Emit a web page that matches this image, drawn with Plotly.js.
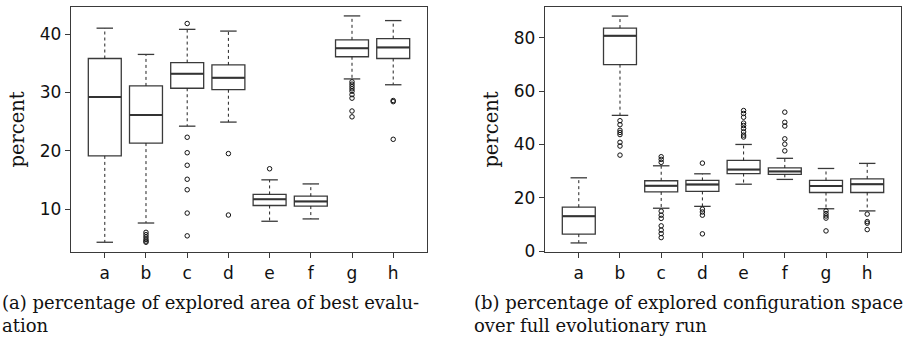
<!DOCTYPE html>
<html>
<head>
<meta charset="utf-8">
<script src="https://cdn.plot.ly/plotly-3.0.1.min.js"></script>
<style>html,body{margin:0;padding:0;background:#fff}#chart{width:912px;height:337px}</style>
</head>
<body>
<div id="chart"></div>
<script>
// categories
const categories = ['a','b','c','d','e','f','g','h'];

// (a) percentage of explored area of best evaluation
const aLower  = [4.3, 7.6, 24.2, 24.9, 7.9, 8.3, 32.3, 31.3];
const aQ1     = [19.1, 21.3, 30.7, 30.45, 10.6, 10.5, 36.1, 35.8];
const aMedian = [29.2, 26.1, 33.2, 32.5, 11.66, 11.3, 37.55, 37.7];
const aQ3     = [35.8, 31.1, 35.1, 34.7, 12.5, 12.2, 39.0, 39.2];
const aUpper  = [41.0, 36.5, 40.8, 40.5, 15.0, 14.3, 43.1, 42.3];
const aOutlierCat = ['b','b','b','b','b','b','c','c','c','c','c','c','c','c','d','d','e',
  'g','g','g','g','g','g','g','g','g','h','h','h'];
const aOutlierVal = [6.0,5.6,5.2,4.8,4.5,4.3, 41.8,22.3,19.65,17.5,15.1,13.3,9.3,5.4, 19.5,8.97, 16.9,
  31.8,31.4,31.0,30.6,30.2,29.6,29.0,26.8,25.8,21.95, 28.6,28.4,17.9];

// (b) percentage of explored configuration space over full evolutionary run
const bLower  = [3.1, 50.9, 16.1, 16.8, 25.1, 26.9, 15.9, 15.1];
const bQ1     = [6.4, 69.9, 22.2, 22.4, 29.1, 28.8, 22.0, 22.0];
const bMedian = [13.1, 80.7, 24.5, 25.0, 30.6, 29.9, 24.4, 25.1];
const bQ3     = [16.5, 83.6, 26.4, 26.5, 34.0, 31.2, 26.5, 27.1];
const bUpper  = [27.5, 88.1, 32.0, 29.0, 40.0, 34.8, 31.0, 32.9];
const bOutlierCat = ['b','b','b','b','b','b','b','b',
  'c','c','c','c','c','c','c','c','c','c',
  'd','d','d','d','d',
  'e','e','e','e','e','e','e','e','e',
  'f','f','f','f','f','f',
  'g','g','g','g','g',
  'h','h','h','h'];
const bOutlierVal = [48.9,47.4,45.3,44.5,43.7,40.8,39.4,36.0,
  35.4,34.4,33.3,15.0,13.5,12.3,9.5,7.9,6.6,5.1,
  33.0,15.75,14.7,13.5,6.5,
  52.7,51.6,50.2,48.0,47.1,46.0,44.7,43.5,42.8,
  52.1,48.3,46.9,42.1,40.1,37.6,
  15.1,14.1,13.2,12.4,7.6,
  13.9,11.1,10.5,8.1];

const yTitle = 'percent';
const captionA = '(a) percentage of explored area of best evalu-<br>ation';
const captionB = '(b) percentage of explored configuration space<br>over full evolutionary run';

const pos = categories.map((c,i)=>i+1);
const posOf = c => categories.indexOf(c)+1;
const BOXW = 0.8, CAPW = 0.4;
const LINEC = '#3a3a3a';

function panel(lower,q1,med,q3,upper,oCat,oVal,xa,ya){
  const traces = [];
  // whiskers (dotted)
  const wx=[], wy=[];
  pos.forEach((p,i)=>{ wx.push(p,p,null,p,p,null); wy.push(q3[i],upper[i],null,q1[i],lower[i],null); });
  traces.push({type:'scatter',mode:'lines',x:wx,y:wy,xaxis:xa,yaxis:ya,
    line:{color:'#222',width:1,dash:'dot'},hoverinfo:'skip',showlegend:false});
  // caps
  const cx=[], cy=[];
  pos.forEach((p,i)=>{ cx.push(p-CAPW/2,p+CAPW/2,null,p-CAPW/2,p+CAPW/2,null); cy.push(upper[i],upper[i],null,lower[i],lower[i],null); });
  traces.push({type:'scatter',mode:'lines',x:cx,y:cy,xaxis:xa,yaxis:ya,
    line:{color:LINEC,width:1.3},hoverinfo:'skip',showlegend:false});
  // boxes
  traces.push({type:'box',x:pos,q1:q1,median:med,q3:q3,lowerfence:q1,upperfence:q3,
    xaxis:xa,yaxis:ya,width:BOXW,whiskerwidth:0,fillcolor:'#ffffff',
    line:{color:LINEC,width:1.3},boxpoints:false,showlegend:false});
  // medians (thicker)
  const mx=[], my=[];
  pos.forEach((p,i)=>{ mx.push(p-BOXW/2,p+BOXW/2,null); my.push(med[i],med[i],null); });
  traces.push({type:'scatter',mode:'lines',x:mx,y:my,xaxis:xa,yaxis:ya,
    line:{color:'#333',width:2},hoverinfo:'skip',showlegend:false});
  // outliers
  traces.push({type:'scatter',mode:'markers',x:oCat.map(posOf),y:oVal,xaxis:xa,yaxis:ya,
    marker:{symbol:'circle-open',size:4.5,color:'#111',line:{width:1,color:'#111'}},showlegend:false});
  return traces;
}

const data = [
  ...panel(aLower,aQ1,aMedian,aQ3,aUpper,aOutlierCat,aOutlierVal,'x','y'),
  ...panel(bLower,bQ1,bMedian,bQ3,bUpper,bOutlierCat,bOutlierVal,'x2','y2')
];

const tickFont = {family:'DejaVu Sans, sans-serif',size:17,color:'#111'};
const titleFont = {family:'DejaVu Serif, serif',size:19.5,color:'#111'};
function xaxis(domain,anchor){
  return {domain:domain,anchor:anchor,range:[0.18,8.82],tickvals:pos,ticktext:categories,
    showgrid:false,zeroline:false,showline:true,mirror:true,linecolor:LINEC,linewidth:1.3,
    ticks:'outside',ticklen:5,tickcolor:LINEC,tickfont:tickFont,fixedrange:true};
}
function yaxis(domain,anchor,range,tv){
  return {domain:domain,anchor:anchor,range:range,tickvals:tv,
    showgrid:false,zeroline:false,showline:true,mirror:true,linecolor:LINEC,linewidth:1.3,
    ticks:'outside',ticklen:5,tickcolor:LINEC,tickfont:tickFont,
    title:{text:yTitle,font:titleFont,standoff:9},fixedrange:true};
}

const capFont = {family:'DejaVu Serif, serif',size:18,color:'#111'};
const layout = {
  width:912,height:337,margin:{l:0,r:0,t:0,b:0},
  paper_bgcolor:'#fff',plot_bgcolor:'#fff',showlegend:false,
  xaxis:xaxis([71/912,427/912],'y'),
  yaxis:yaxis([1-252/337,1-7/337],'x',[2.63,44.63],[10,20,30,40]),
  xaxis2:xaxis([545/912,901/912],'y2'),
  yaxis2:yaxis([1-252/337,1-7/337],'x2',[-0.3,91.5],[0,20,40,60,80]),
  annotations:[
    {text:captionA,xref:'paper',yref:'paper',x:0,y:1-290/337,xanchor:'left',yanchor:'top',
     align:'left',showarrow:false,font:capFont},
    {text:captionB,xref:'paper',yref:'paper',x:472/912,y:1-290/337,xanchor:'left',yanchor:'top',
     align:'left',showarrow:false,font:capFont}
  ]
};

Plotly.newPlot('chart',data,layout,{staticPlot:true,displayModeBar:false});
</script>
</body>
</html>
